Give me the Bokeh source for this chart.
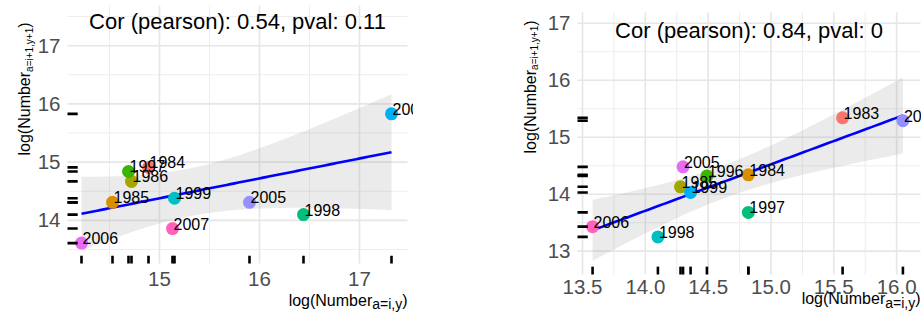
import numpy as np
from bokeh.plotting import figure
from bokeh.models import ColumnDataSource, LabelSet, Label, Range1d, Spacer
from bokeh.core.properties import value
from bokeh.layouts import row
from bokeh.embed import file_html
from bokeh.resources import INLINE

# ---------------- data ----------------
left_years = ["1984", "1985", "1986", "1997", "1998", "1999", "2004", "2005", "2006", "2007"]
left_x = [14.89, 14.53, 14.72, 14.69, 16.44, 15.15, 17.32, 15.90, 14.22, 15.13]
left_y = [14.91, 14.31, 14.67, 14.84, 14.10, 14.38, 15.83, 14.31, 13.61, 13.86]
left_title = "Cor (pearson): 0.54, pval: 0.11"
left_x_major = [15, 16, 17]
left_x_minor = [14.5, 15.5, 16.5]
left_y_major = [14, 15, 16, 17]
left_y_minor = [13.5, 14.5, 15.5, 16.5, 17.5]
left_x_labels = ["15", "16", "17"]
left_y_labels = ["14", "15", "16", "17"]

right_years = ["1983", "1984", "1985", "1996", "1997", "1998", "1999", "2004", "2005", "2006"]
right_x = [15.57, 14.82, 14.28, 14.49, 14.82, 14.10, 14.36, 16.05, 14.30, 13.58]
right_y = [15.34, 14.34, 14.13, 14.32, 13.68, 13.25, 14.03, 15.29, 14.48, 13.43]
right_title = "Cor (pearson): 0.84, pval: 0"
right_x_major = [13.5, 14.0, 14.5, 15.0, 15.5, 16.0]
right_x_minor = [13.75, 14.25, 14.75, 15.25, 15.75]
right_y_major = [13, 14, 15, 16, 17]
right_y_minor = [13.5, 14.5, 15.5, 16.5]
right_x_labels = ["13.5", "14.0", "14.5", "15.0", "15.5", "16.0"]
right_y_labels = ["13", "14", "15", "16", "17"]

hue_colors = ["#F8766D", "#D89000", "#A3A500", "#39B600", "#00BF7D",
              "#00BFC4", "#00B0F6", "#9590FF", "#E76BF3", "#FF62BC"]

x_title_main = "log(Number"
x_title_sub = "a=i,y"
y_title_main = "log(Number"
y_title_sub = "a=i+1,y+1"
paren = ")"

T975_DF8 = 2.306  # t quantile for the 95% band, n = 10
FONT = "Liberation Sans"
H = 327


def fit_band(xs, ys, n_grid=80):
    x = np.asarray(xs, float)
    y = np.asarray(ys, float)
    n = len(x)
    xm, ym = x.mean(), y.mean()
    sxx = ((x - xm) ** 2).sum()
    b = ((x - xm) * (y - ym)).sum() / sxx
    a = ym - b * xm
    s = np.sqrt(((y - (a + b * x)) ** 2).sum() / (n - 2))
    gx = np.linspace(x.min(), x.max(), n_grid)
    gy = a + b * gx
    se = s * np.sqrt(1.0 / n + (gx - xm) ** 2 / sxx)
    return gx, gy, gy - T975_DF8 * se, gy + T975_DF8 * se


def text_label(text, x, y, size, xu="canvas", yu="canvas", angle=0.0, align="left",
               color="black"):
    return Label(x=x, y=y, x_units=xu, y_units=yu, angle=angle, text=text,
                 text_font=FONT, text_font_size=size, text_color=color,
                 text_align=align, text_baseline="middle")


def panel(xs, ys, years, title, W, box, px_range, py_range,
          x_major, x_minor, y_major, y_minor, x_labels, y_labels,
          title_mid, xtick_mid, xt_mid, yt_x, yt_bottom):
    l, t, r, b = box  # panel box in canvas pixels
    dx = (px_range[1] - px_range[0]) / (r - l)
    dy = (py_range[1] - py_range[0]) / (b - t)
    x_rng = Range1d(px_range[0] - l * dx, px_range[1] + (W - r) * dx)
    y_rng = Range1d(py_range[0] - (H - b) * dy, py_range[1] + t * dy)

    p = figure(width=W, height=H, output_backend="svg", toolbar_location=None,
               x_axis_type=None, y_axis_type=None, x_range=x_rng, y_range=y_rng,
               min_border_left=0, min_border_right=0, min_border_top=0, min_border_bottom=0)
    p.outline_line_color = None
    p.background_fill_color = "white"
    p.border_fill_color = "white"

    x0, x1 = px_range
    y0, y1 = py_range
    # grid
    p.segment(x0=x_minor, y0=[y0] * len(x_minor), x1=x_minor, y1=[y1] * len(x_minor),
              line_color="#EEEEEE", line_width=1.1)
    p.segment(x0=[x0] * len(y_minor), y0=y_minor, x1=[x1] * len(y_minor), y1=y_minor,
              line_color="#EEEEEE", line_width=1.1)
    p.segment(x0=x_major, y0=[y0] * len(x_major), x1=x_major, y1=[y1] * len(x_major),
              line_color="#E6E6E6", line_width=1.6)
    p.segment(x0=[x0] * len(y_major), y0=y_major, x1=[x1] * len(y_major), y1=y_major,
              line_color="#E6E6E6", line_width=1.6)

    # smooth
    gx, gy, lo, hi = fit_band(xs, ys)
    p.varea(x=gx, y1=lo, y2=hi, fill_color="#999999", fill_alpha=0.2)
    p.line(x=gx, y=gy, line_color="blue", line_width=2.6)

    src = ColumnDataSource(dict(x=xs, y=ys, year=years, color=hue_colors))
    p.scatter(x="x", y="y", source=src, size=13, fill_color="color", line_color=None)

    # rugs (3% of panel, drawn inward from the panel edges)
    n = len(xs)
    rug_y = 0.03 * (y1 - y0)
    rug_x = 0.03 * (x1 - x0)
    p.segment(x0=xs, y0=[y0] * n, x1=xs, y1=[y0 + rug_y] * n,
              line_color="black", line_width=2.6, line_cap="butt")
    p.segment(x0=[x0] * n, y0=ys, x1=[x0 + rug_x] * n, y1=ys,
              line_color="black", line_width=2.6, line_cap="butt")

    p.add_layout(LabelSet(x="x", y="y", text="year", source=src,
                          text_font=value(FONT), text_font_size="16px",
                          text_color="black", text_align="left",
                          text_baseline="alphabetic", x_offset=1, y_offset=-1))

    # tick labels
    for v, s in zip(x_major, x_labels):
        p.add_layout(text_label(s, v, xtick_mid, "20.5px", xu="data", align="center",
                                color="#4D4D4D"))
    for v, s in zip(y_major, y_labels):
        p.add_layout(text_label(s, l - 7, v, "20.5px", yu="data", align="right",
                                color="#4D4D4D"))

    # correlation text
    p.add_layout(text_label(title, (l + r) / 2, title_mid, "22px", align="center"))

    # x axis title, right aligned to the panel edge
    w_paren = 0.333 * 16
    w_xsub = 2.14 * 14
    p.add_layout(text_label(paren, r, xt_mid, "16px", align="right"))
    p.add_layout(text_label(x_title_sub, r - w_paren, xt_mid + 4, "14px", align="right"))
    p.add_layout(text_label(x_title_main, r - w_paren - w_xsub, xt_mid, "16px", align="right"))

    # y axis title, rotated
    w_ymain = 5.223 * 16
    w_ysub = 4.42 * 10
    p.add_layout(text_label(y_title_main, yt_x, yt_bottom, "16px", angle=np.pi / 2))
    p.add_layout(text_label(y_title_sub, yt_x + 4.5, yt_bottom - w_ymain, "10px",
                            angle=np.pi / 2))
    p.add_layout(text_label(paren, yt_x, yt_bottom - w_ymain - w_ysub, "16px",
                            angle=np.pi / 2))
    return p


left = panel(left_x, left_y, left_years, left_title, W=413, box=(67, 5, 407, 263),
             px_range=(14.08, 17.48), py_range=(13.26, 17.69),
             x_major=left_x_major, x_minor=left_x_minor,
             y_major=left_y_major, y_minor=left_y_minor,
             x_labels=left_x_labels, y_labels=left_y_labels,
             title_mid=20.5, xtick_mid=278, xt_mid=299.5, yt_x=24, yt_bottom=155)

right = panel(right_x, right_y, right_years, right_title, W=416, box=(72, 12, 415, 274),
              px_range=(13.46, 16.19), py_range=(12.59, 17.19),
              x_major=right_x_major, x_minor=right_x_minor,
              y_major=right_y_major, y_minor=right_y_minor,
              x_labels=right_x_labels, y_labels=right_y_labels,
              title_mid=29.5, xtick_mid=286, xt_mid=298, yt_x=24.5, yt_bottom=153)

layout = row(left, Spacer(width=92, height=H), right)

open("out.html", "w").write(file_html(layout, INLINE))
